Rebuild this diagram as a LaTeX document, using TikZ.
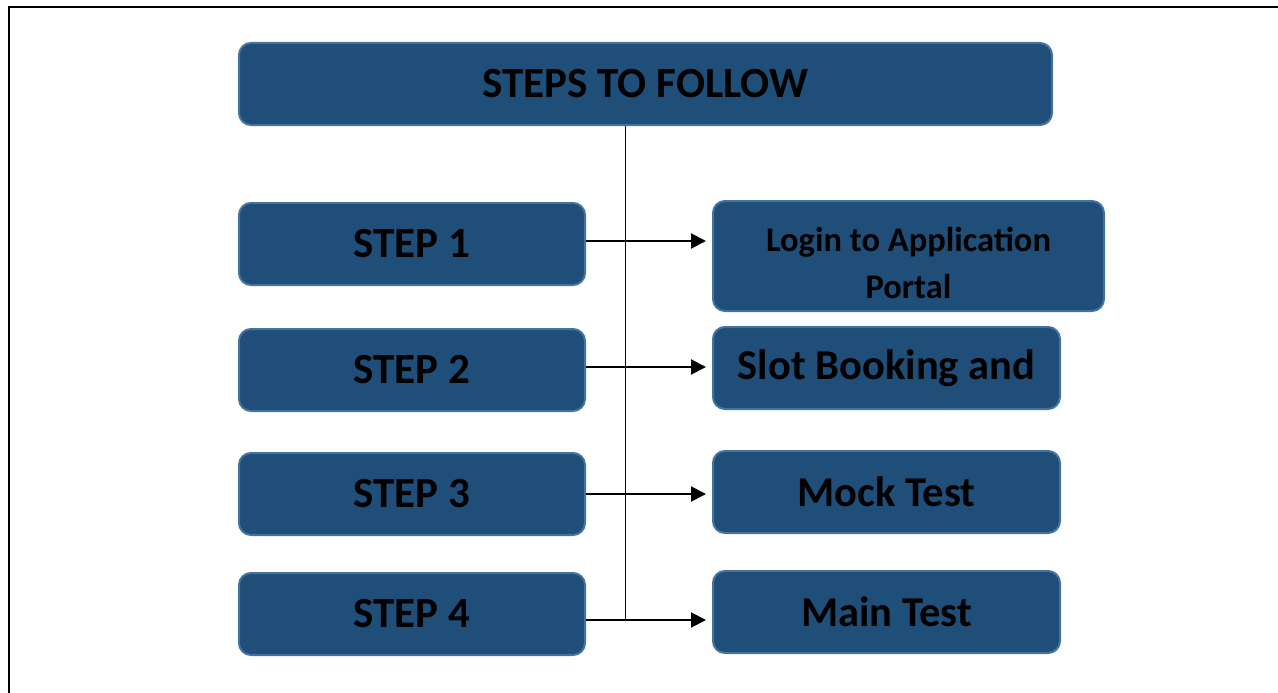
\documentclass[tikz,border=0pt]{standalone}
\usepackage{fontspec}
\setmainfont{Carlito}
\usepackage{xcolor}
\usepackage{tikz}
\usetikzlibrary{arrows.meta}
\definecolor{boxfill}{HTML}{1F4E79}
\definecolor{boxline}{HTML}{4672A0}

\begin{document}
\begin{tikzpicture}[x=1pt, y=-1pt,
  box/.style={draw=boxline, fill=boxfill, line width=2pt, rounded corners=12pt,
    text=black, font=\bfseries\fontsize{43}{50}\selectfont, inner sep=0pt},
  stepbox/.style={box, minimum width=346pt, minimum height=82pt},
  taskbox/.style={box, minimum width=347pt, minimum height=82pt, font=\bfseries\fontsize{42.5}{50}\selectfont},
  arr/.style={line width=2pt, -{Triangle[length=15pt,width=15pt]}, shorten >=6pt}]
\useasboundingbox (0,0) rectangle (1278,693);
%%%%% Frame %%%%%
\draw[line width=1.5pt] (9,693)--(9,7)--(1278,7);
%%%%% Title %%%%%
\node[box, minimum width=813pt, minimum height=82pt] (title) at (645.5,84) {STEPS TO FOLLOW};
%%%%% Steps %%%%%
\foreach \i/\y in {1/244,2/370,3/494,4/614}{
\node[stepbox] (s\i) at (412,\y) {STEP \i};
}
\node[box, minimum width=391pt, minimum height=110pt,
  font=\bfseries\fontsize{34.5}{47}\selectfont] (r1) at (908.5,256)
  {\raisebox{-16pt}[0pt][0pt]{\begin{tabular}{@{}c@{}}Login to Application\\Portal\end{tabular}}};
\node[taskbox] (r2) at (886.5,368) {Slot Booking and};
\node[taskbox] (r3) at (886.5,492) {Mock Test};
\node[taskbox] (r4) at (886.5,612) {Main Test};
%%%%% Connectors %%%%%
\coordinate (spine) at (625,620);
\draw[line width=1pt] (title.south -| spine)--(spine);
\foreach \i/\y in {1/241,2/367,3/494,4/620}{
\draw[arr] (s\i.east |- 0,\y)--(r\i.west |- 0,\y);
}
\end{tikzpicture}
\end{document}
